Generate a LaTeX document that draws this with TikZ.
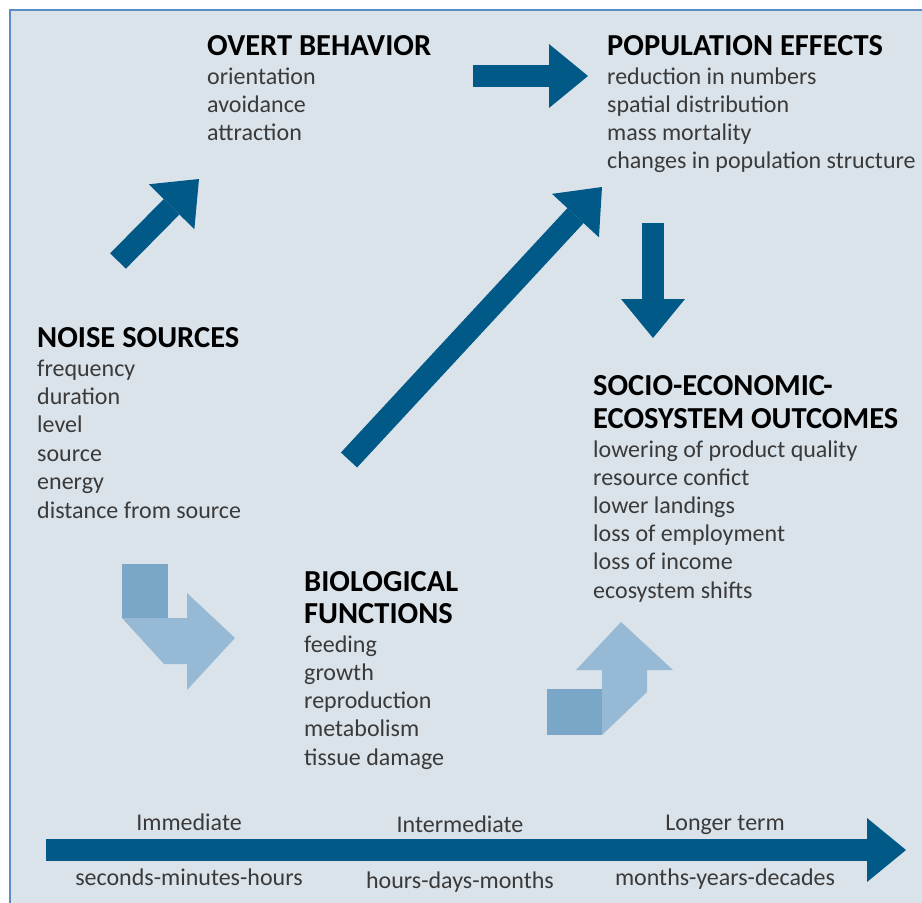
\documentclass[tikz,border=0pt]{standalone}
\usepackage{fontspec}
\setmainfont{Carlito}
\usepackage{xcolor}
\usetikzlibrary{arrows.meta, positioning, calc}

\definecolor{paneblue}{RGB}{218,227,234}
\definecolor{frameblue}{RGB}{91,139,201}
\definecolor{arrowblue}{RGB}{0,89,134}
\definecolor{paleblue}{RGB}{150,186,214}
\definecolor{boxblue}{RGB}{122,166,199}
\definecolor{txtgray}{RGB}{58,58,58}

\begin{document}
\begin{tikzpicture}[x=1pt, y=-1pt,
    head/.style={anchor=base west, inner sep=0pt, text=black, font=\bfseries\fontsize{30.5}{33}\selectfont},
    item/.style={anchor=base west, inner sep=0pt, text=txtgray, font=\fontsize{24}{28}\selectfont},
    tlabel/.style={anchor=base, inner sep=0pt, text=txtgray, font=\fontsize{24}{28}\selectfont},
    bigarrow/.style={draw=arrowblue, line width=22pt, -{Triangle[length=39pt, width=64pt, line width=0pt]}}]
    \useasboundingbox (0,0) rectangle (922,903);
    % panel
    \fill[paneblue] (10,10) rectangle (922,903);
    \draw[frameblue, line width=1.5pt] (10,903) -- (10,10) -- (922,10);

    % text blocks
    \node[head] (overt) at (207,55) {OVERT BEHAVIOR};
    \foreach \t [count=\i from 0] in {orientation, avoidance, attraction}
        \node[item] (overt-\i) at (207,84+28*\i) {\t};

    \node[head] (popul) at (607,55) {POPULATION EFFECTS};
    \foreach \t [count=\i from 0] in {reduction in numbers, spatial distribution,
        mass mortality, changes in population structure}
        \node[item] (popul-\i) at (607,84+28.2*\i) {\t};

    \node[head] (noise) at (37,347) {NOISE SOURCES};
    \foreach \t [count=\i from 0] in {frequency, duration, level, source, energy,
        distance from source}
        \node[item] (noise-\i) at (37,376+28.4*\i) {\t};

    \node[head] (socio) at (593,395) {SOCIO-ECONOMIC-};
    \node[head] (socio2) at (593,428) {ECOSYSTEM OUTCOMES};
    \foreach \t [count=\i from 0] in {lowering of product quality, resource confict,
        lower landings, loss of employment, loss of income, ecosystem shifts}
        \node[item] (socio-\i) at (593,457+28.2*\i) {\t};

    \node[head] (bio) at (304,591) {BIOLOGICAL};
    \node[head] (bio2) at (304,623) {FUNCTIONS};
    \foreach \t [count=\i from 0] in {feeding, growth, reproduction, metabolism,
        tissue damage}
        \node[item] (bio-\i) at (304,652+28.3*\i) {\t};

    % dark arrows
    \coordinate (noise-out) at (118,261);
    \coordinate (overt-in) at (199,179);
    \coordinate (overt-out) at (473,76);
    \coordinate (popul-in) at (588,76);
    \coordinate (popul-out) at (653,223);
    \coordinate (socio-in) at (653,338);
    \coordinate (bio-out) at (349,460);
    \coordinate (popul-in2) at (602,187);
    \draw[bigarrow] (noise-out) -- (overt-in);
    \draw[bigarrow] (overt-out) -- (popul-in);
    \draw[bigarrow] (popul-out) -- (socio-in);
    \draw[bigarrow] (bio-out) -- (popul-in2);

    % bent pale arrows
    \fill[boxblue] (122,564) rectangle (168,618);
    \fill[paleblue] (122,618) -- (164,664) -- (187,664) -- (187,690) -- (235,638)
        -- (187,593) -- (187,618) -- cycle;
    \fill[boxblue] (547,689) rectangle (602,735);
    \fill[paleblue] (602,735) -- (647,692) -- (647,670) -- (673,670) -- (621,622)
        -- (576,670) -- (602,670) -- cycle;

    % time line
    \coordinate (time-start) at (46,850);
    \coordinate (time-end) at (906,850);
    \draw[bigarrow] (time-start) -- (time-end);
    \node[tlabel] (imm) at (189,830) {Immediate};
    \node[tlabel] (inter) at (460,832) {Intermediate};
    \node[tlabel] (longer) at (725,830) {Longer term};
    \node[tlabel] (imm-t) at (189,885) {seconds-minutes-hours};
    \node[tlabel] (inter-t) at (460,888) {hours-days-months};
    \node[tlabel] (longer-t) at (725,885) {months-years-decades};
\end{tikzpicture}
\end{document}
